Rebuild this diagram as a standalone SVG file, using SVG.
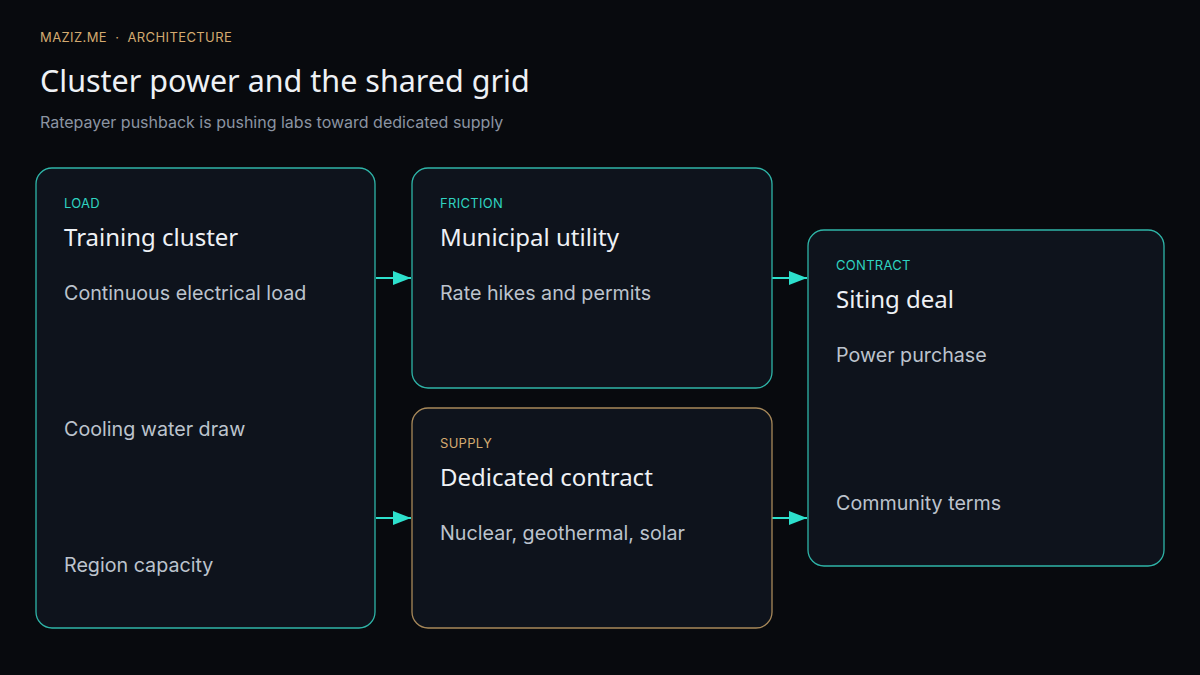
<svg xmlns="http://www.w3.org/2000/svg" width="1200" height="675" viewBox="0 0 1200 675">
<style>
text{font-family:Inter,"Liberation Sans",sans-serif}
.card{fill:#0e131c;stroke:#2fb5a8;stroke-width:1.3}
.gold{stroke:#a8895a}
.tag{font-size:13px;fill:#2fd3c0;letter-spacing:0.3px}
.tagg{font-size:13px;fill:#d4aa70;letter-spacing:0.3px}
.ttl{font-size:24px;fill:#eef1f5;font-family:"Noto Sans",Inter,sans-serif}
.body{font-size:19.7px;fill:#bcc3cd}
.conn{stroke:#2de0cc;stroke-width:2;fill:none}
</style>
<defs><marker id="ah" viewBox="0 0 18 14" refX="18" refY="7" markerWidth="18" markerHeight="14" markerUnits="userSpaceOnUse" orient="auto"><path d="M0,0 L18,7 L0,14 z" fill="#2de0cc"/></marker></defs>
<rect width="1200" height="675" fill="#080a0e"/>
<text x="40" y="42" style="font-size:13px;fill:#d4aa70;letter-spacing:0.4px" xml:space="preserve">MAZIZ.ME  ·  ARCHITECTURE</text>
<text x="40" y="92" style="font-size:30.5px;fill:#eef1f5;font-family:'Noto Sans',Inter,sans-serif">Cluster power and the shared grid</text>
<text x="40" y="128" style="font-size:16px;fill:#8b94a2">Ratepayer pushback is pushing labs toward dedicated supply</text>
<g id="connectors">
<path class="conn" d="M376,278 H411" marker-end="url(#ah)"/>
<path class="conn" d="M376,518 H411" marker-end="url(#ah)"/>
<path class="conn" d="M772,278 H807" marker-end="url(#ah)"/>
<path class="conn" d="M772,518 H807" marker-end="url(#ah)"/>
</g>
<g id="load"><rect class="card" x="36" y="168" width="339" height="460" rx="16"/>
<text class="tag" x="64" y="208">LOAD</text><text class="ttl" x="64" y="246">Training cluster</text>
<text class="body" x="64" y="300">Continuous electrical load</text><text class="body" x="64" y="436">Cooling water draw</text><text class="body" x="64" y="572">Region capacity</text></g>
<g id="friction"><rect class="card" x="412" y="168" width="360" height="220" rx="16"/>
<text class="tag" x="440" y="208">FRICTION</text><text class="ttl" x="440" y="246">Municipal utility</text>
<text class="body" x="440" y="300">Rate hikes and permits</text></g>
<g id="supply"><rect class="card gold" x="412" y="408" width="360" height="220" rx="16"/>
<text class="tagg" x="440" y="448">SUPPLY</text><text class="ttl" x="440" y="486">Dedicated contract</text>
<text class="body" x="440" y="540">Nuclear, geothermal, solar</text></g>
<g id="contract"><rect class="card" x="808" y="230" width="356" height="336" rx="16"/>
<text class="tag" x="836" y="270">CONTRACT</text><text class="ttl" x="836" y="308">Siting deal</text>
<text class="body" x="836" y="362">Power purchase</text><text class="body" x="836" y="510">Community terms</text></g>
</svg>
